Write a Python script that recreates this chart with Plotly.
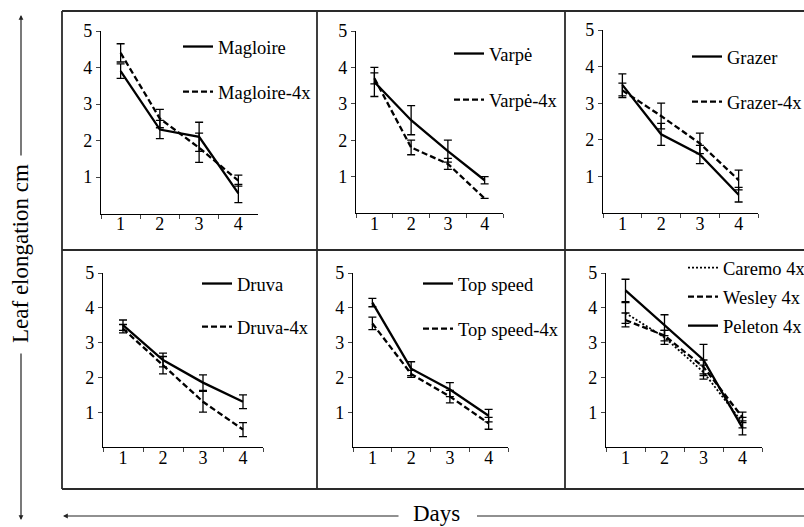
import plotly.graph_objects as go

W, H = 804, 527

days = ["1", "2", "3", "4"]

magloire = [3.9, 2.3, 2.1, 0.55]
magloire_err = [0.2, 0.25, 0.4, 0.25]
magloire4x = [4.4, 2.6, 1.8, 0.9]
magloire4x_err = [0.25, 0.25, 0.4, 0.15]

varpe = [3.6, 2.55, 1.7, 0.9]
varpe_err = [0.4, 0.4, 0.3, 0.1]
varpe4x = [3.7, 1.8, 1.35, 0.4]
varpe4x_err = [0.15, 0.2, 0.15, 0.0]

grazer = [3.5, 2.15, 1.6, 0.5]
grazer_err = [0.3, 0.3, 0.25, 0.2]
grazer4x = [3.35, 2.65, 1.9, 0.9]
grazer4x_err = [0.2, 0.35, 0.28, 0.27]

druva = [3.5, 2.5, 1.85, 1.3]
druva_err = [0.15, 0.2, 0.22, 0.2]
druva4x = [3.4, 2.35, 1.3, 0.5]
druva4x_err = [0.12, 0.25, 0.3, 0.2]

topspeed = [4.15, 2.25, 1.65, 0.9]
topspeed_err = [0.12, 0.2, 0.2, 0.18]
topspeed4x = [3.55, 2.1, 1.45, 0.68]
topspeed4x_err = [0.18, 0.1, 0.18, 0.17]

caremo = [3.85, 3.15, 2.15, 0.7]
caremo_err = [0.3, 0.2, 0.2, 0.15]
wesley = [3.65, 3.2, 2.3, 0.85]
wesley_err = [0.2, 0.15, 0.2, 0.15]
peleton = [4.5, 3.5, 2.5, 0.55]
peleton_err = [0.32, 0.3, 0.45, 0.2]

yticks = [1, 2, 3, 4, 5]

FONT = "Liberation Serif"
SOLID = "solid"
DASH = "6px,3px"
DOT = "2px,2px"

# panels: (series list, x-domain px, y-domain px (bottom, top), legend (left px, top px, gap))
panels = [
    ([("Magloire", magloire, magloire_err, SOLID), ("Magloire-4x", magloire4x, magloire4x_err, DASH)],
     (101, 258), (213.5, 31), (178, 28, 18)),
    ([("Varpė", varpe, varpe_err, SOLID), ("Varpė-4x", varpe4x, varpe4x_err, DASH)],
     (356, 503), (213, 31), (449, 35, 19)),
    ([("Grazer", grazer, grazer_err, SOLID), ("Grazer-4x", grazer4x, grazer4x_err, DASH)],
     (603, 758), (213, 30), (687, 38, 18)),
    ([("Druva", druva, druva_err, SOLID), ("Druva-4x", druva4x, druva4x_err, DASH)],
     (103, 263), (447, 273), (197, 265, 16)),
    ([("Top speed", topspeed, topspeed_err, SOLID), ("Top speed-4x", topspeed4x, topspeed4x_err, DASH)],
     (353, 508), (447, 273), (418, 265, 18)),
    ([("Caremo 4x", caremo, caremo_err, DOT), ("Wesley 4x", wesley, wesley_err, DASH),
      ("Peleton 4x", peleton, peleton_err, SOLID)],
     (606, 762), (447, 273), (683, 249, 2)),
]

fig = go.Figure()
layout = dict(
    width=W, height=H, margin=dict(l=0, r=0, t=0, b=0, autoexpand=False),
    paper_bgcolor="white", plot_bgcolor="white",
    font=dict(family=FONT, size=18, color="black"),
    showlegend=True,
)

for i, (series, xd, yd, leg) in enumerate(panels):
    n = i + 1
    xa = "x" if n == 1 else f"x{n}"
    ya = "y" if n == 1 else f"y{n}"
    lname = "legend" if n == 1 else f"legend{n}"
    for j, (name, vals, errs, dash) in enumerate(series):
        fig.add_trace(go.Scatter(
            x=days, y=vals, name=name, mode="lines",
            line=dict(color="black", width=2.3 if dash != DOT else 1.8, dash=dash),
            error_y=dict(type="data", array=errs, visible=True, color="black",
                         thickness=1.3, width=4),
            xaxis=xa, yaxis=ya, legend=lname, legendgroup=f"g{n}_{j}",
            cliponaxis=False,
        ))
    layout[f"xaxis{'' if n == 1 else n}"] = dict(
        domain=[xd[0] / W, xd[1] / W], anchor=ya, type="category",
        range=[-0.5, 3.5], tickson="boundaries", ticks="outside", ticklen=4,
        tickwidth=1, showline=True, linecolor="black", linewidth=1.3,
        showgrid=False, zeroline=False, tickfont=dict(size=18),
        fixedrange=True, automargin=False, ticklabelstandoff=-6,
    )
    layout[f"yaxis{'' if n == 1 else n}"] = dict(
        domain=[1 - yd[0] / H, 1 - yd[1] / H], anchor=xa,
        range=[0, 5], tickvals=yticks, ticks="outside", ticklen=4, tickwidth=1,
        showline=True, linecolor="black", linewidth=1.3, showgrid=False,
        zeroline=False, tickfont=dict(size=18), fixedrange=True, automargin=False,
    )
    layout[lname] = dict(
        x=leg[0] / W, y=1 - leg[1] / H, xanchor="left", yanchor="top",
        bgcolor="rgba(0,0,0,0)", borderwidth=0, tracegroupgap=leg[2],
        font=dict(family=FONT, size=18.5, color="black"),
        itemclick=False, itemdoubleclick=False,
    )

# frame lines
FR = "#2a2a2a"
frame = [
    (62, 11, W, 11), (62, 250, W, 250), (62, 489, W, 489),
    (62, 11, 62, 489), (317, 11, 317, 489), (565, 11, 565, 489),
]
shapes = []
for x0, y0, x1, y1 in frame:
    shapes.append(dict(type="line", xref="paper", yref="paper",
                       x0=x0 / W, y0=1 - y0 / H, x1=x1 / W, y1=1 - y1 / H,
                       line=dict(color=FR, width=1.8)))
# right part of Days arrow line
shapes.append(dict(type="line", xref="paper", yref="paper",
                   x0=477 / W, y0=1 - 516 / H, x1=W / W, y1=1 - 516 / H,
                   line=dict(color="#222", width=1.2)))
layout["shapes"] = shapes

annotations = [
    dict(text="Leaf elongation cm", x=21 / W, y=1 - 254 / H, xref="paper", yref="paper",
         xanchor="center", yanchor="middle",
         textangle=-90, showarrow=False, font=dict(size=23, family=FONT)),
    dict(text="Days", x=436 / W, y=1 - 513 / H, xref="paper", yref="paper",
         xanchor="center", yanchor="middle",
         showarrow=False, font=dict(size=23, family=FONT)),
    # arrows
    dict(text="", x=21 / W, y=1 - 15 / H, xref="paper", yref="paper",
         showarrow=True, ax=0, ay=142, arrowhead=2, arrowsize=0.8, arrowwidth=1.2,
         arrowcolor="#222"),
    dict(text="", x=21 / W, y=1 - 520 / H, xref="paper", yref="paper",
         showarrow=True, ax=0, ay=-168, arrowhead=2, arrowsize=0.8, arrowwidth=1.2,
         arrowcolor="#222"),
    dict(text="", x=63 / W, y=1 - 516 / H, xref="paper", yref="paper",
         showarrow=True, ax=337, ay=0, arrowhead=2, arrowsize=0.8, arrowwidth=1.2,
         arrowcolor="#222"),
]
layout["annotations"] = annotations

fig.update_layout(**layout)
fig.write_html("out.html")
